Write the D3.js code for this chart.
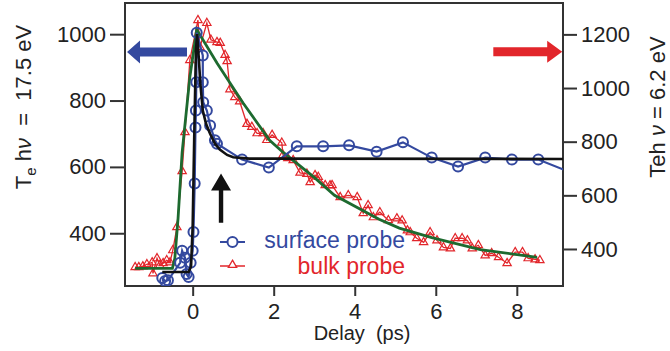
<!DOCTYPE html>
<html lang="en">
<head>
  <meta charset="UTF-8">
  <title>Te vs delay</title>
  <script src="https://d3js.org/d3.v7.min.js"></script>
  <style>
    body { margin: 0; background: #fff; }
    svg { display: block; font-family: "Liberation Sans", Arial, sans-serif; }
    .axis text { font-size: 22px; fill: #222; }
    .axis line { stroke: #333; stroke-width: 2; }
  </style>
</head>
<body>
  <div id="chart"></div>
  <script>
    // ticks
    const delayTicks = [0, 2, 4, 6, 8]
    const leftTicks = [400, 600, 800, 1000]
    const rightTicks = [400, 600, 800, 1000, 1200]

    // surface probe (left axis), [delay ps, Te K]
    const surfaceProbe = [
      [-0.75, 265], [-0.68, 256], [-0.61, 258], [-0.31, 311], [-0.26, 347], [-0.19, 326],
      [-0.15, 277], [-0.10, 268], [-0.05, 311], [0.0, 347], [0.02, 404], [0.05, 550],
      [0.07, 719], [0.08, 770], [0.09, 855], [0.10, 1004], [0.25, 936], [0.25, 855],
      [0.26, 795], [0.35, 770], [0.43, 725], [0.55, 680], [0.60, 670], [1.22, 622],
      [1.88, 598], [2.57, 662], [3.22, 662], [3.86, 665], [4.54, 646], [5.19, 674],
      [5.90, 628], [6.55, 601], [7.22, 628], [7.88, 622], [8.53, 622], [9.30, 585]
    ]

    // bulk probe (right axis)
    const bulkProbe = [
      [-1.42, 332], [-1.33, 332], [-1.23, 335], [-1.13, 343], [-1.0, 350], [-0.98, 309],
      [-0.88, 365], [-0.81, 339], [-0.73, 347], [-0.64, 358], [-0.56, 350], [-0.49, 395],
      [-0.39, 481], [-0.26, 690], [-0.19, 835], [-0.07, 1104], [0.13, 1253], [0.18, 1152],
      [0.35, 1242], [0.45, 1180], [0.60, 1171], [0.68, 1168], [0.80, 1123], [0.85, 1100],
      [0.92, 995], [1.04, 966], [1.16, 950], [1.34, 866], [1.46, 855], [1.59, 831],
      [1.74, 831], [1.83, 806], [1.96, 825], [2.20, 796], [2.23, 750], [2.35, 738],
      [2.48, 731], [2.65, 684], [2.82, 680], [2.90, 649], [3.02, 675], [3.10, 668],
      [3.27, 638], [3.39, 637], [3.44, 638], [3.64, 593], [3.84, 600], [4.06, 593],
      [4.21, 533], [4.33, 563], [4.46, 518], [4.62, 537], [4.83, 507], [5.04, 514],
      [5.17, 506], [5.30, 469], [5.37, 462], [5.53, 440], [5.70, 425], [5.86, 462],
      [6.03, 432], [6.19, 406], [6.36, 402], [6.48, 440], [6.65, 440], [6.78, 432],
      [6.90, 402], [7.05, 414], [7.22, 376], [7.38, 384], [7.55, 369], [7.76, 347],
      [7.96, 388], [8.14, 388], [8.28, 365], [8.45, 361], [8.57, 358]
    ]

    // fit curves
    const surfaceFit = [
      [-0.75, 283], [-0.10, 283], [-0.04, 300], [0.0, 420], [0.04, 700], [0.08, 950],
      [0.11, 1000], [0.15, 930], [0.19, 850], [0.25, 770], [0.33, 730], [0.43, 700],
      [0.55, 670], [0.67, 652], [0.85, 636], [1.0, 629], [1.4, 625], [9.3, 624]
    ]
    const bulkFit = [
      [-1.42, 328], [-0.50, 328], [-0.44, 365], [-0.36, 515], [-0.26, 760], [-0.07, 1040],
      [0.10, 1218], [0.60, 1093], [1.24, 945], [1.90, 805], [2.25, 758], [3.0, 667],
      [3.5, 600], [4.6, 511], [5.1, 478], [5.9, 442], [7.1, 398], [8.5, 369]
    ]

    const blue = '#34499f', red = '#e2262b', green = '#1d6a2f'

    let W = 670, H = 351
    let box = { left: 125, right: 563, top: 3, bottom: 286 }

    let x = d3.scaleLinear().domain([-1.67, 9.14]).range([box.left, box.right])
    let yL = d3.scaleLinear().domain([241, 1094]).range([box.bottom, box.top])
    let yR = d3.scaleLinear().domain([262, 1317]).range([box.bottom, box.top])

    let svg = d3.select('#chart').append('svg')
      .attr('width', W)
      .attr('height', H)

    svg.append('clipPath').attr('id', 'clip')
      .append('rect')
      .attr('x', box.left).attr('y', box.top)
      .attr('width', box.right - box.left).attr('height', box.bottom - box.top)

    // axes
    let fmt = d3.format('d')
    svg.append('g').attr('class', 'axis')
      .attr('transform', `translate(0,${box.bottom})`)
      .call(d3.axisBottom(x).tickValues(delayTicks).tickFormat(fmt).tickSize(10).tickPadding(7).tickSizeOuter(0))
      .call(g => g.select('.domain').remove())

    svg.append('g').attr('class', 'axis')
      .attr('transform', `translate(${box.left},0)`)
      .call(d3.axisLeft(yL).tickValues(leftTicks).tickFormat(fmt).tickSize(15).tickPadding(4).tickSizeOuter(0))
      .call(g => g.select('.domain').remove())

    svg.append('g').attr('class', 'axis')
      .attr('transform', `translate(${box.right},0)`)
      .call(d3.axisRight(yR).tickValues(rightTicks).tickFormat(fmt).tickSize(14).tickPadding(4).tickSizeOuter(0))
      .call(g => g.select('.domain').remove())

    // frame
    svg.append('rect')
      .attr('x', box.left).attr('y', box.top)
      .attr('width', box.right - box.left).attr('height', box.bottom - box.top)
      .attr('fill', 'none').attr('stroke', '#333').attr('stroke-width', 2)

    let plot = svg.append('g').attr('clip-path', 'url(#clip)')

    let lineR = d3.line().x(d => x(d[0])).y(d => yR(d[1]))
    let lineL = d3.line().x(d => x(d[0])).y(d => yL(d[1]))

    // bulk probe
    plot.append('path').datum(bulkProbe)
      .attr('d', lineR).attr('fill', 'none').attr('stroke', red).attr('stroke-width', 1.3)
    let tri = d3.symbol(d3.symbolTriangle, 30)
    plot.selectAll('.tri').data(bulkProbe).enter()
      .append('path').attr('class', 'tri')
      .attr('d', tri)
      .attr('transform', d => `translate(${x(d[0])},${yR(d[1])})`)
      .attr('fill', 'none').attr('stroke', red).attr('stroke-width', 1.2)

    plot.append('path').datum(bulkFit)
      .attr('d', lineR).attr('fill', 'none').attr('stroke', green).attr('stroke-width', 2.8)

    // surface probe
    plot.append('path').datum(surfaceProbe)
      .attr('d', lineL).attr('fill', 'none').attr('stroke', blue).attr('stroke-width', 2.2)
    plot.selectAll('.circ').data(surfaceProbe).enter()
      .append('circle').attr('class', 'circ')
      .attr('cx', d => x(d[0])).attr('cy', d => yL(d[1])).attr('r', 5)
      .attr('fill', 'none').attr('stroke', blue).attr('stroke-width', 2)

    plot.append('path').datum(surfaceFit)
      .attr('d', lineL).attr('fill', 'none').attr('stroke', '#111').attr('stroke-width', 2.6)

    // arrows
    function arrow(x0, x1, yc, head, halfShaft, halfHead, color) {
      let dir = x1 > x0 ? 1 : -1
      let xb = x1 - dir * head
      let pts = [[x0, yc - halfShaft], [xb, yc - halfShaft], [xb, yc - halfHead], [x1, yc],
                 [xb, yc + halfHead], [xb, yc + halfShaft], [x0, yc + halfShaft]]
      svg.append('path').attr('d', 'M' + pts.join('L') + 'Z').attr('fill', color)
    }
    arrow(x(-0.14), x(-1.62), yL(946), 13, 4.5, 11.5, blue)
    arrow(x(7.42), x(9.12), yR(1135), 15, 4.5, 11, red)

    // black arrow
    let ax = x(0.70), ay0 = yL(432), ay1 = yL(580)
    svg.append('path')
      .attr('d', `M${ax - 2.2},${ay0}L${ax - 2.2},${ay1 + 17}L${ax - 10},${ay1 + 17}L${ax},${ay1}` +
        `L${ax + 10},${ay1 + 17}L${ax + 2.2},${ay1 + 17}L${ax + 2.2},${ay0}Z`)
      .attr('fill', '#111')

    // legend
    let lg = svg.append('g')
    lg.append('line').attr('x1', 220).attr('x2', 245).attr('y1', 242).attr('y2', 242)
      .attr('stroke', blue).attr('stroke-width', 2)
    lg.append('circle').attr('cx', 232.5).attr('cy', 242).attr('r', 5)
      .attr('fill', '#fff').attr('stroke', blue).attr('stroke-width', 2)
    lg.append('text').attr('x', 405).attr('y', 248).attr('text-anchor', 'end')
      .attr('font-size', 23).attr('fill', blue).text('surface probe')
    lg.append('line').attr('x1', 220).attr('x2', 245).attr('y1', 266).attr('y2', 266)
      .attr('stroke', red).attr('stroke-width', 1.5)
    lg.append('path').attr('d', tri).attr('transform', 'translate(232.5,265)')
      .attr('fill', '#fff').attr('stroke', red).attr('stroke-width', 1.3)
    lg.append('text').attr('x', 405).attr('y', 273.5).attr('text-anchor', 'end')
      .attr('font-size', 23).attr('fill', red).text('bulk probe')

    // axis titles
    svg.append('text')
      .attr('x', 362).attr('y', 340).attr('text-anchor', 'middle')
      .attr('font-size', 20).attr('fill', '#222').style('white-space', 'pre')
      .text('Delay  (ps)')

    let tl = svg.append('text')
      .attr('transform', 'translate(31,107) rotate(-90)')
      .attr('text-anchor', 'middle').attr('font-size', 22).attr('fill', '#222')
      .style('white-space', 'pre')
    tl.append('tspan').text('T')
    tl.append('tspan').attr('font-size', 15).attr('dy', 5).text('e')
    tl.append('tspan').attr('dy', -5).text(' h')
    tl.append('tspan').attr('font-style', 'italic').text('ν')
    tl.append('tspan').text('  =  17.5 eV')

    let tr = svg.append('text')
      .attr('transform', 'translate(665,107) rotate(-90)')
      .attr('text-anchor', 'middle').attr('font-size', 22).attr('fill', '#222')
      .style('white-space', 'pre')
    tr.append('tspan').text('Teh ')
    tr.append('tspan').attr('font-style', 'italic').text('ν')
    tr.append('tspan').text(' = 6.2 eV')
  </script>
</body>
</html>
